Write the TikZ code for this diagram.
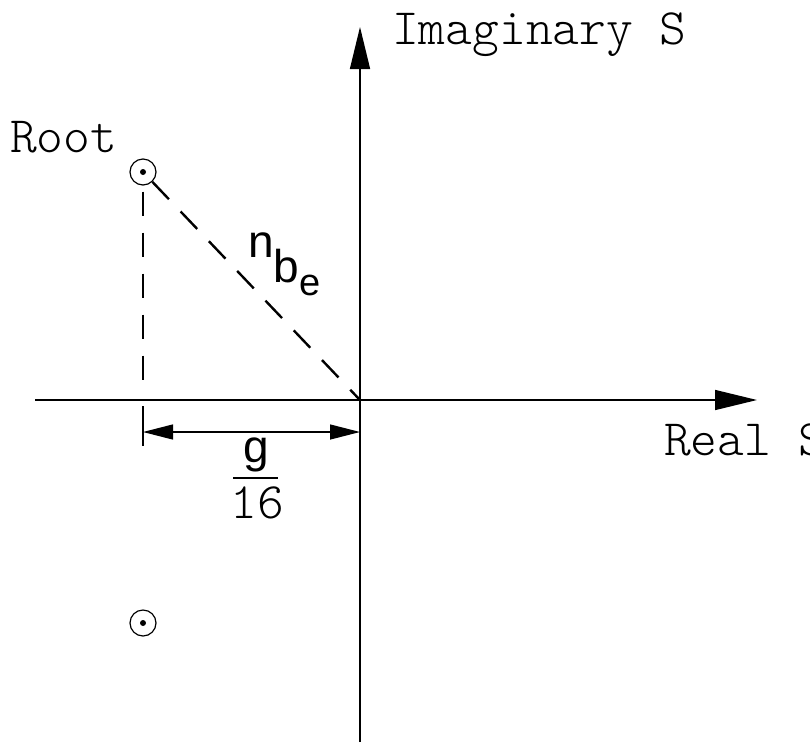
\documentclass[tikz,border=0pt]{standalone}
\usepackage{fontspec}
\setmainfont{Liberation Sans}
\setmonofont{lmmonolt10-regular.otf}
\usetikzlibrary{arrows.meta, positioning}

\begin{document}
\begin{tikzpicture}[x=1pt, y=-1pt,
    root/.style={circle, draw, line width=1.2pt, minimum size=26pt, inner sep=0pt},
    axis/.style={line width=1.5pt, -{Triangle[length=42pt, width=20pt]}},
    dashline/.style={line width=2.4pt, dash pattern=on 24pt off 17pt},
    monotext/.style={font=\fontsize{51}{60}\selectfont\ttfamily, inner sep=0pt},
    sanstext/.style={font=\fontsize{46}{54}\selectfont\rmfamily, inner sep=0pt},
    >={Triangle[length=30pt, width=15pt]}
]
\useasboundingbox (0,0) rectangle (810,742);

% Axes
\coordinate (origin) at (360,400);
\coordinate (xstart) at (35,400);
\coordinate (xend) at (757,400);
\coordinate (ystart) at (360,742);
\coordinate (yend) at (360,27);
\draw[axis] (xstart) -- (xend);
\draw[axis] (ystart) -- (yend);

% Axis labels
\node[monotext, anchor=base west] (imag) at (392,44) {Imaginary S};
\node[monotext, anchor=base west] (real) at (664,455) {Real S};

% Roots
\node[root] (root1) at (143,172) {};
\node[root] (root2) at (143,623) {};
\fill (root1.center) circle[radius=3pt];
\fill (root2.center) circle[radius=3pt];
\node[monotext, anchor=base west] (rootlabel) at (10,152) {Root};

% Dashed lines
\coordinate (foot) at (143,396);
\draw[dashline, dash phase=-6pt] (root1.south) -- (foot);
\draw[dashline] (root1) -- (origin);
\node[sanstext, anchor=base west] (nbe) at (248,257)
    {n\raisebox{-25pt}{b\raisebox{-13pt}{\fontsize{38}{40}\selectfont e}}};

% Dimension g/16
\coordinate (ticktop) at (143,406);
\coordinate (tickbot) at (143,446);
\coordinate (diml) at (143,432);
\coordinate (dimr) at (360,432);
\draw[line width=1.2pt] (ticktop) -- (tickbot);
\draw[line width=1.3pt, <->] (diml) -- (dimr);
\node[sanstext, anchor=base] (gnum) at (256,462) {g};
\node[monotext, anchor=base] (gden) at (257,518) {16};
\coordinate (barl) at (233,478);
\coordinate (barr) at (278,478);
\draw[line width=1.6pt] (barl) -- (barr);
\end{tikzpicture}
\end{document}
